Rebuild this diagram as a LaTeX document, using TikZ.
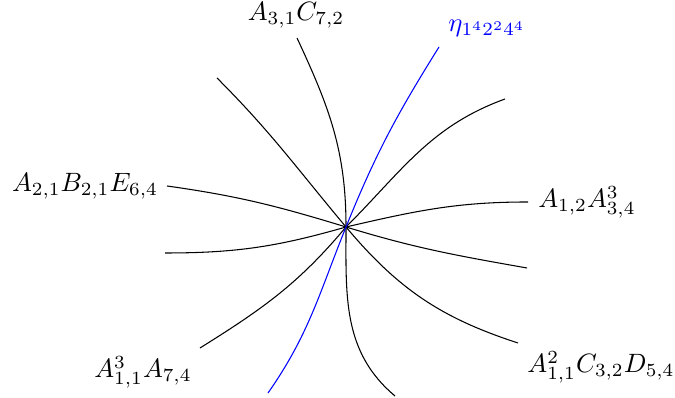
\documentclass[tikz,border=0pt]{standalone}
\begin{document}
\begin{tikzpicture}[x=0.377pt, y=0.377pt,
  branch/.style={black},
  eta/.style={blue},
  lbl/.style={inner sep=1pt}]
  \useasboundingbox (0,0) rectangle (675,398);
  \coordinate (o) at (346,171);
  % branch ends, counter-clockwise from the top
  \coordinate (e1) at (297,360);
  \coordinate (e2) at (217,320);
  \coordinate (e3) at (167,212);
  \coordinate (e4) at (165,145);
  \coordinate (e5) at (200,50);
  \coordinate (e6) at (268,5);
  \coordinate (e7) at (395,2);
  \coordinate (e8) at (518,55);
  \coordinate (e9) at (527,130);
  \coordinate (e10) at (528,196);
  \coordinate (e11) at (505,299);
  \coordinate (e12) at (439,351);
  \node[lbl] (l1) at (296,383) {$A_{3,1}C_{7,2}$};
  \node[lbl, eta] (l12) at (487,370) {$\eta_{1^4 2^2 4^4}$};
  \node[lbl] (l3) at (85,212) {$A_{2,1}B_{2,1}E_{6,4}$};
  \node[lbl] (l10) at (587,196) {$A_{1,2}A^3_{3,4}$};
  \node[lbl] (l5) at (143,26) {$A^3_{1,1}A_{7,4}$};
  \node[lbl] (l8) at (601,31) {$A^2_{1,1}C_{3,2}D_{5,4}$};
  \draw[branch] (o) to[out=90, in=-65] (e1);
  \draw[branch] (o) to[out=130, in=-45] (e2);
  \draw[branch] (o) to[out=163, in=-8] (e3);
  \draw[branch] (o) to[out=196, in=0] (e4);
  \draw[branch] (o) to[out=230, in=32] (e5);
  \draw[branch] (o) to[out=-90, in=140] (e7);
  \draw[branch] (o) to[out=-50, in=162] (e8);
  \draw[branch] (o) to[out=-17, in=170] (e9);
  \draw[branch] (o) to[out=13, in=180] (e10);
  \draw[branch] (o) to[out=45, in=-160] (e11);
  \draw[eta] (e6) to[out=55, in=-112] (o) to[out=68, in=-122] (e12);
\end{tikzpicture}
\end{document}
